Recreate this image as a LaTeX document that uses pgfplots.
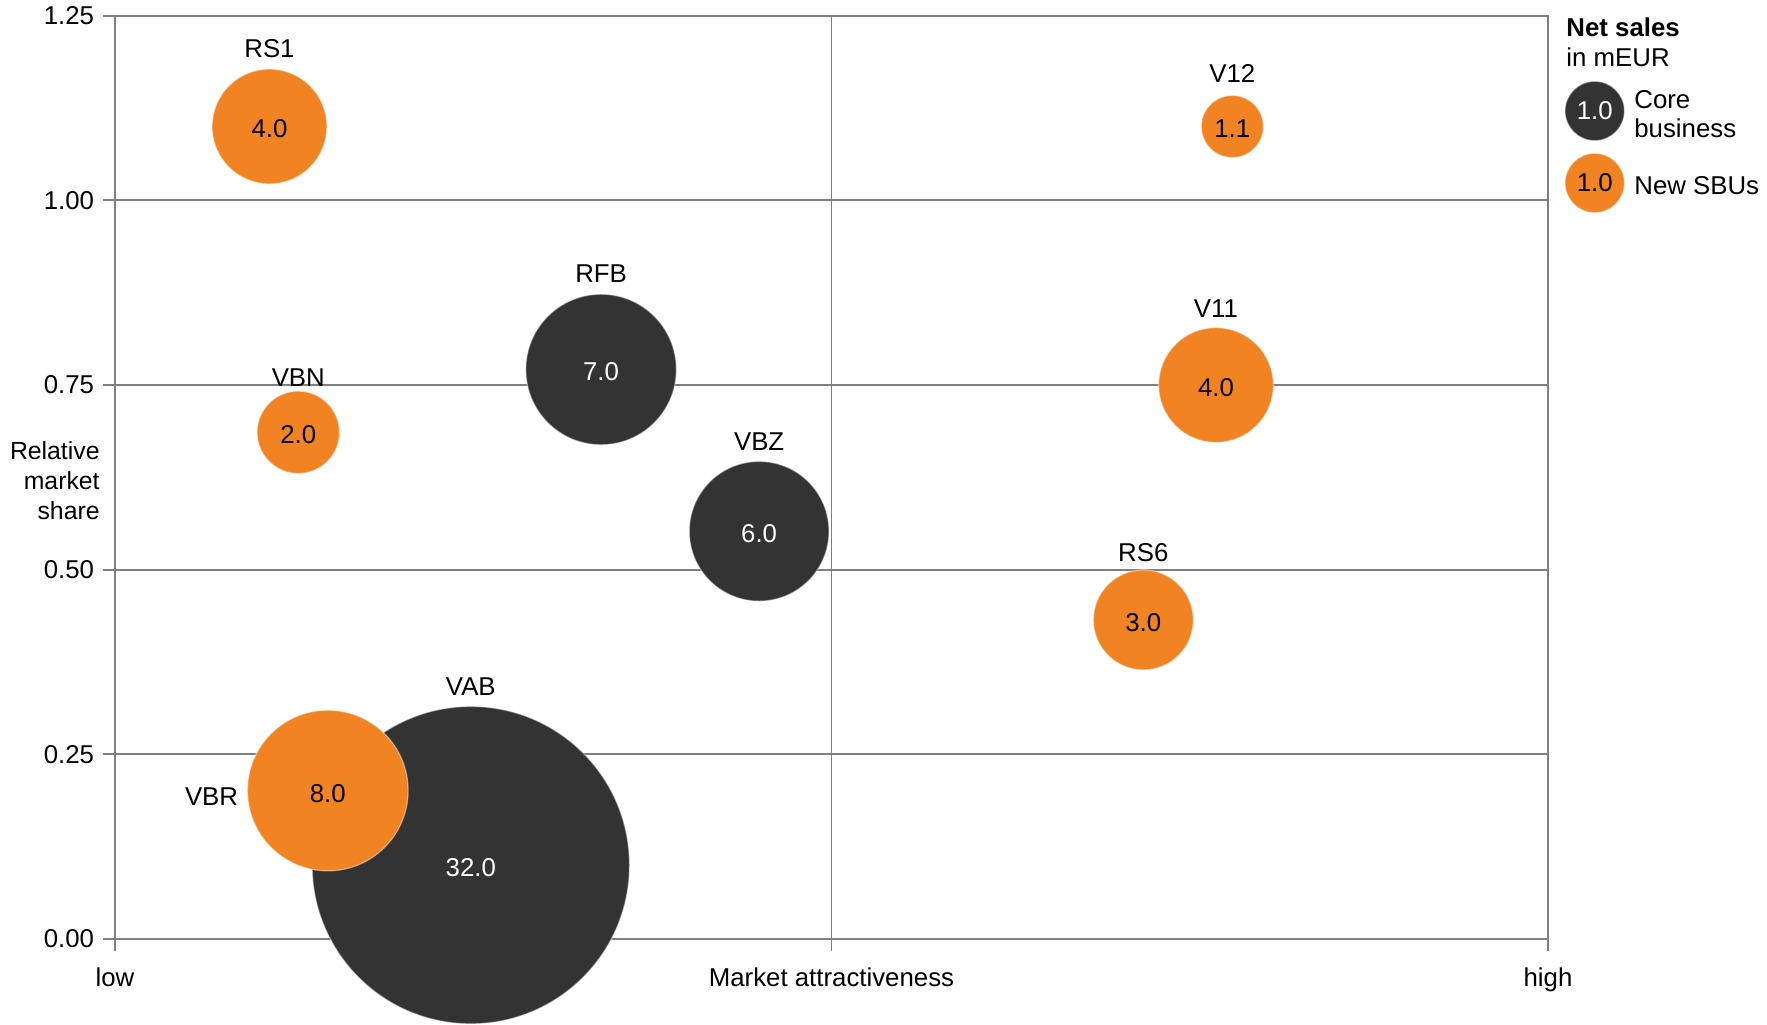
\documentclass[border=0pt]{standalone}
\usepackage{pgfplots}
\pgfplotsset{compat=1.18}
\usepackage{pgfplotstable}
\usepackage{fontspec}
\setmainfont{Liberation Sans}
\definecolor{core}{HTML}{333333}
\definecolor{sbu}{HTML}{F28322}
\definecolor{gridc}{HTML}{808080}

% x y : position, v : net sales (mEUR), name, gap g (px) between bubble and its name
\pgfplotstableread{
x y v name g
0.2483 0.100 32.0 VAB 11
0.3392 0.771 7.0 RFB 11.5
0.4495 0.552 6.0 VBZ 11
}\coredata
\pgfplotstableread{
x y v name g
0.1078 1.100 4.0 RS1 12
0.7797 1.100 1.1 V12 13
0.1279 0.686 2.0 VBN 5
0.7683 0.750 4.0 V11 10.5
0.7176 0.432 3.0 RS6 8
}\sbudata
\pgfplotstableread{
x y v name g
0.1485 0.201 8.0 VBR 9
}\sbuleft
\pgfplotstableread{
x y v
1.0326 1.121 1.0
}\legcore
\pgfplotstableread{
x y v
1.0326 1.0235 1.0
}\legsbu

\pgfplotsset{
  bubble/.style={
    only marks, mark=*,
    point meta=explicit,
    nodes near coords={\pgfmathprintnumber[fixed,fixed zerofill,precision=1]{\pgfplotspointmeta}},
    mark options={draw=white, draw opacity=0.45, line width=0.6pt, fill=#1},
    visualization depends on={13.85*sqrt(\thisrow{v})+1 \as \rad},
    scatter/@pre marker code/.append style={/tikz/mark size=\rad pt,
      /tikz/draw=white, /tikz/draw opacity=0.45, /tikz/line width=0.6pt, /tikz/fill=#1},
  },
  nameplot/.style={
    only marks, mark=*, mark size=0pt,
    point meta=explicit symbolic,
    nodes near coords={\pgfplotspointmeta},
    mark options={draw=none, fill=none},
    scatter/@pre marker code/.append style={/tikz/mark size=0pt, /tikz/draw=none, /tikz/fill=none},
    visualization depends on={13.85*sqrt(\thisrow{v})+1 \as \rad},
    visualization depends on={\thisrow{g} \as \gap},
  },
  namesabove/.style={
    nameplot,
    every node near coord/.append style={text=black, anchor=base,
      yshift={\rad+0.5*\gap}},
  },
  namesleft/.style={
    nameplot,
    every node near coord/.append style={text=black, anchor=east, inner sep=0pt,
      xshift={-(\rad+0.5*\gap)}, yshift=-3pt},
  },
}

\begin{document}
\fontsize{12.9}{16}\selectfont
\begin{tikzpicture}
\useasboundingbox (-57.5pt,-42.5pt) rectangle (826pt,469.5pt);
\begin{axis}[
  at={(0,0)}, anchor=south west,
  scale only axis, width=716.5pt, height=461.65pt,
  xmin=0, xmax=1, ymin=0, ymax=1.25,
  clip=false,
  axis line style={draw=gridc, line width=0.9pt},
  xtick={0,0.5,1}, xticklabels={low,Market attractiveness,high},
  ytick={0,0.25,0.5,0.75,1,1.25},
  xmajorgrids, ymajorgrids,
  grid style={draw=gridc, line width=0.9pt},
  tick align=outside, tick pos=left,
  major tick length=6pt,
  major tick style={draw=gridc, line width=0.9pt},
  /pgf/number format/assume math mode=true,
  yticklabel style={/pgf/number format/.cd, fixed, fixed zerofill, precision=2},
  xticklabel style={yshift=-4pt},
]
\addplot[bubble=core, every node near coord/.append style={anchor=center, text=white, yshift=-1.3pt}] table[x=x,y=y,meta=v] {\coredata};
\addplot[bubble=sbu, every node near coord/.append style={anchor=center, text=black, yshift=-1.3pt}] table[x=x,y=y,meta=v] {\sbudata};
\addplot[bubble=sbu, every node near coord/.append style={anchor=center, text=black, yshift=-1.3pt}] table[x=x,y=y,meta=v] {\sbuleft};
\addplot[namesabove] table[x=x,y=y,meta=name] {\coredata};
\addplot[namesabove] table[x=x,y=y,meta=name] {\sbudata};
\addplot[namesleft] table[x=x,y=y,meta=name] {\sbuleft};
% legend bubbles
\addplot[bubble=core, every node near coord/.append style={anchor=center, text=white}] table[x=x,y=y,meta=v] {\legcore};
\addplot[bubble=sbu, every node near coord/.append style={anchor=center, text=black}] table[x=x,y=y,meta=v] {\legsbu};
\node[anchor=base west, inner sep=0pt] at (axis cs:1.0126,1.2225) {\textbf{Net sales}};
\node[anchor=base west, inner sep=0pt] at (axis cs:1.0126,1.181) {in mEUR};
\node[anchor=base west, inner sep=0pt] at (axis cs:1.060,1.125) {Core};
\node[anchor=base west, inner sep=0pt] at (axis cs:1.060,1.0848) {business};
\node[anchor=base west, inner sep=0pt] at (axis cs:1.060,1.0082) {New SBUs};
\node[anchor=east, align=right, inner sep=0pt, font=\fontsize{12.4}{15}\selectfont] at (axis cs:0,0.621) [xshift=-7.5pt] {Relative\\market\\share};
\end{axis}
\end{tikzpicture}
\end{document}
